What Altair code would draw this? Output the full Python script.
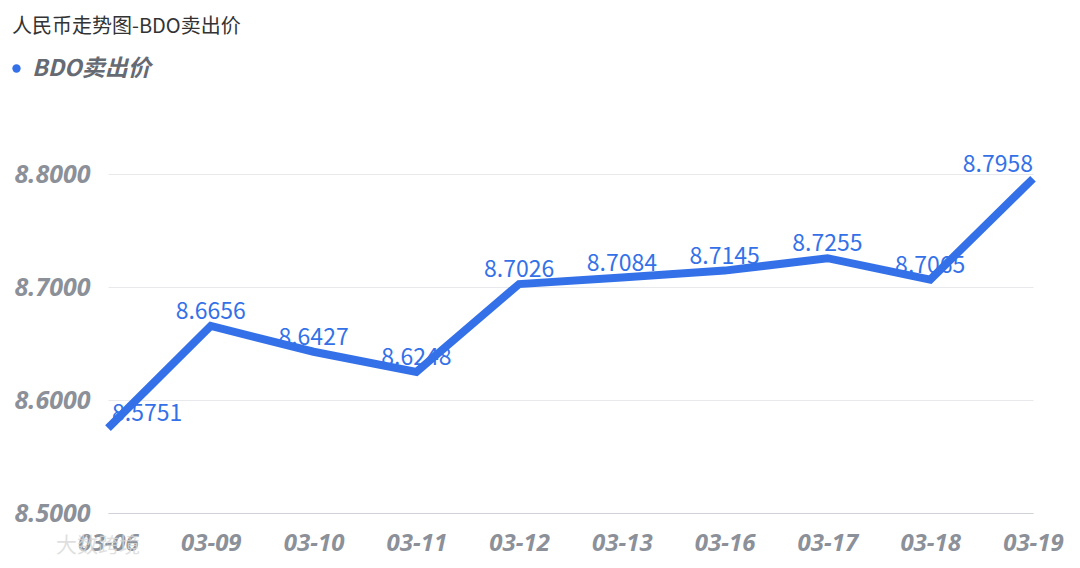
import altair as alt
import pandas as pd

dates = ["03-06", "03-09", "03-10", "03-11", "03-12", "03-13", "03-16", "03-17", "03-18", "03-19"]
values = [8.5751, 8.6656, 8.6427, 8.6248, 8.7026, 8.7084, 8.7145, 8.7255, 8.7065, 8.7958]
series_name = "BDO卖出价"
y_ticks = [8.5, 8.6, 8.7, 8.8]

n = len(dates)
df = pd.DataFrame({
    "date": dates,
    "value": values,
    "label": [f"{v:.4f}" for v in values],
    "series": [series_name] * n,
    "pos": ["first"] + ["mid"] * (n - 2) + ["last"],
})

BLUE = "#3471e8"
GRAY = "#8b9099"
FONT = "Noto Sans CJK SC"

x_enc = alt.X("date:N", sort=dates,
              scale=alt.Scale(type="point", padding=0),
              axis=alt.Axis(title=None, labelAngle=0, labelFontSize=24, labelFont="Noto Sans",
                            labelFontWeight="bold", labelFontStyle="italic", labelColor=GRAY,
                            labelPadding=18, ticks=False, domainColor="#cfd3d9", grid=False))
y_enc = alt.Y("value:Q", scale=alt.Scale(domain=[8.5, 8.8], nice=False, zero=False),
              axis=alt.Axis(title=None, values=y_ticks, format=".4f", labelFontSize=25,
                            labelFont="Noto Sans", labelFontWeight="bold", labelFontStyle="italic",
                            labelColor=GRAY, labelPadding=18, ticks=False, domain=False,
                            gridColor="#e8e9ec"))

base = alt.Chart(df).encode(x=x_enc, y=y_enc)

def labels(pos, align, dx):
    return base.transform_filter(alt.datum.pos == pos).mark_text(
        font=FONT, fontSize=23, color=BLUE, align=align, baseline="bottom", dy=-2, dx=dx
    ).encode(text="label:N")

line = base.mark_line(strokeWidth=8, strokeJoin="miter", strokeCap="butt").encode(
    color=alt.Color("series:N", scale=alt.Scale(range=[BLUE]),
                    legend=alt.Legend(orient="none", legendX=-103, legendY=-117, title=None,
                                      symbolType="circle", symbolFillColor=BLUE, symbolStrokeWidth=0,
                                      symbolSize=70, labelFont=FONT, labelFontSize=23,
                                      labelFontWeight="bold", labelFontStyle="italic",
                                      labelColor="#666a73", labelOffset=4))
)

watermark = alt.Chart(pd.DataFrame({"t": ["大数跨境"]})).mark_text(
    font=FONT, fontSize=21, color="#d8d8d8", opacity=0.8, align="left", baseline="middle"
).encode(text="t:N", x=alt.value(-52), y=alt.value(372))

chart = alt.layer(labels("first", "left", 4), labels("mid", "center", 0), labels("last", "right", 0), line, watermark).properties(
    width=925, height=339,
    padding={"left": 100, "top": 166, "right": 39, "bottom": 47},
    autosize=alt.AutoSizeParams(type="none"),
    title=alt.TitleParams("人民币走势图-BDO卖出价", anchor="start", frame="group", dx=-96,
                          offset=20, font=FONT, fontSize=20, fontWeight="normal", color="#333333"),
).configure(background="white").configure_view(stroke=None, strokeWidth=0)

chart.save("out.html", embed_options={"renderer": "svg", "actions": False})
